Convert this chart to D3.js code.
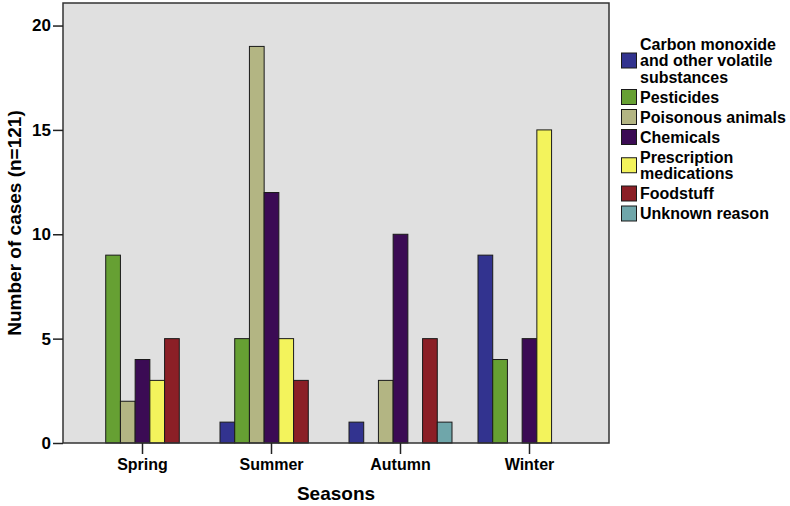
<!DOCTYPE html>
<html>
<head>
<meta charset="utf-8">
<script src="https://cdn.jsdelivr.net/npm/d3@7"></script>
<style>
  html, body { margin: 0; padding: 0; background: #ffffff; }
  svg { display: block; }
  text { font-family: "Liberation Sans", Arial, Helvetica, sans-serif; font-weight: bold; fill: #000; }
</style>
</head>
<body>
<svg id="chart" width="790" height="506"></svg>
<script>
// ---- Data ----
const seasons = ["Spring", "Summer", "Autumn", "Winter"];
const series = [
  "Carbon monoxide and other volatile substances",
  "Pesticides",
  "Poisonous animals",
  "Chemicals",
  "Prescription medications",
  "Foodstuff",
  "Unknown reason"
];
const legendLines = [
  ["Carbon monoxide", "and other volatile", "substances"],
  ["Pesticides"],
  ["Poisonous animals"],
  ["Chemicals"],
  ["Prescription", "medications"],
  ["Foodstuff"],
  ["Unknown reason"]
];
// values[seriesIndex][seasonIndex]
const carbonMonoxide = [0, 1, 1, 9];
const pesticides     = [9, 5, 0, 4];
const poisonous      = [2, 19, 3, 0];
const chemicals      = [4, 12, 10, 5];
const prescription   = [3, 5, 0, 15];
const foodstuff      = [5, 3, 5, 0];
const unknownReason  = [0, 0, 1, 0];
const values = [carbonMonoxide, pesticides, poisonous, chemicals, prescription, foodstuff, unknownReason];
const yTicks = [0, 5, 10, 15, 20];
const colors = ["#32338f", "#66a033", "#b3b583", "#3b0b54", "#f3f35c", "#8b1f26", "#6fa6aa"];

// ---- Layout ----
const svg = d3.select("#chart");
const plot = { left: 63, right: 609, top: 3, bottom: 443 };

const x0 = d3.scaleBand()
  .domain(seasons)
  .range([plot.left, plot.right])
  .paddingInner(0.2016)
  .paddingOuter(0.2171);

const x1 = d3.scaleBand()
  .domain(d3.range(series.length))
  .range([0, x0.bandwidth()]);

const y = d3.scaleLinear()
  .domain([0, 21.08])
  .range([plot.bottom, plot.top]);

// plot background
svg.append("rect")
  .attr("x", plot.left).attr("y", plot.top)
  .attr("width", plot.right - plot.left)
  .attr("height", plot.bottom - plot.top)
  .attr("fill", "#e0e0e0");

// bars
const rows = [];
seasons.forEach((s, si) => {
  series.forEach((ser, k) => {
    const v = values[k][si];
    if (v > 0) rows.push({ season: s, k, v });
  });
});

svg.append("g").selectAll("rect")
  .data(rows)
  .join("rect")
  .attr("x", d => x0(d.season) + x1(d.k))
  .attr("y", d => y(d.v))
  .attr("width", x1.bandwidth())
  .attr("height", d => y(0) - y(d.v))
  .attr("fill", d => colors[d.k])
  .attr("stroke", "#1a1a1a")
  .attr("stroke-width", 1);

// frame
svg.append("rect")
  .attr("x", plot.left).attr("y", plot.top)
  .attr("width", plot.right - plot.left)
  .attr("height", plot.bottom - plot.top)
  .attr("fill", "none")
  .attr("stroke", "#333")
  .attr("stroke-width", 1.5);

// y axis
const yAxis = svg.append("g")
  .attr("transform", `translate(${plot.left},0)`)
  .call(d3.axisLeft(y).tickValues(yTicks).tickSize(10).tickPadding(2).tickFormat(d3.format("d")));
yAxis.select(".domain").remove();
yAxis.selectAll("line").attr("stroke", "#222").attr("stroke-width", 1.5);
yAxis.selectAll("text").style("font-size", "17px").attr("fill", "#000");

// x axis
const xAxis = svg.append("g")
  .attr("transform", `translate(0,${plot.bottom})`)
  .call(d3.axisBottom(x0).tickSize(11).tickPadding(5));
xAxis.select(".domain").remove();
xAxis.selectAll("line").attr("stroke", "#222").attr("stroke-width", 1.5);
xAxis.selectAll("text").style("font-size", "16px").attr("fill", "#000");

// axis titles
svg.append("text")
  .attr("x", (plot.left + plot.right) / 2)
  .attr("y", 500)
  .attr("text-anchor", "middle")
  .style("font-size", "19px")
  .text("Seasons");

svg.append("text")
  .attr("transform", `translate(21,${(plot.top + plot.bottom) / 2}) rotate(-90)`)
  .attr("text-anchor", "middle")
  .style("font-size", "19px")
  .text("Number of cases (n=121)");

// legend
const lineH = 16.5, gap = 3.5;
let cy = 34;
const legend = svg.append("g");
legendLines.forEach((lines, k) => {
  const h = lines.length * lineH + gap;
  const center = cy + h / 2;
  legend.append("rect")
    .attr("x", 621.5).attr("y", center - 7.5)
    .attr("width", 15).attr("height", 15)
    .attr("fill", colors[k])
    .attr("stroke", "#1a1a1a").attr("stroke-width", 1);
  const t = legend.append("text")
    .attr("x", 640)
    .style("font-size", "16px");
  lines.forEach((ln, i) => {
    const lc = center + (i - (lines.length - 1) / 2) * lineH;
    t.append("tspan").attr("x", 640).attr("y", lc + 5.8).text(ln);
  });
  cy += h;
});
</script>
</body>
</html>
